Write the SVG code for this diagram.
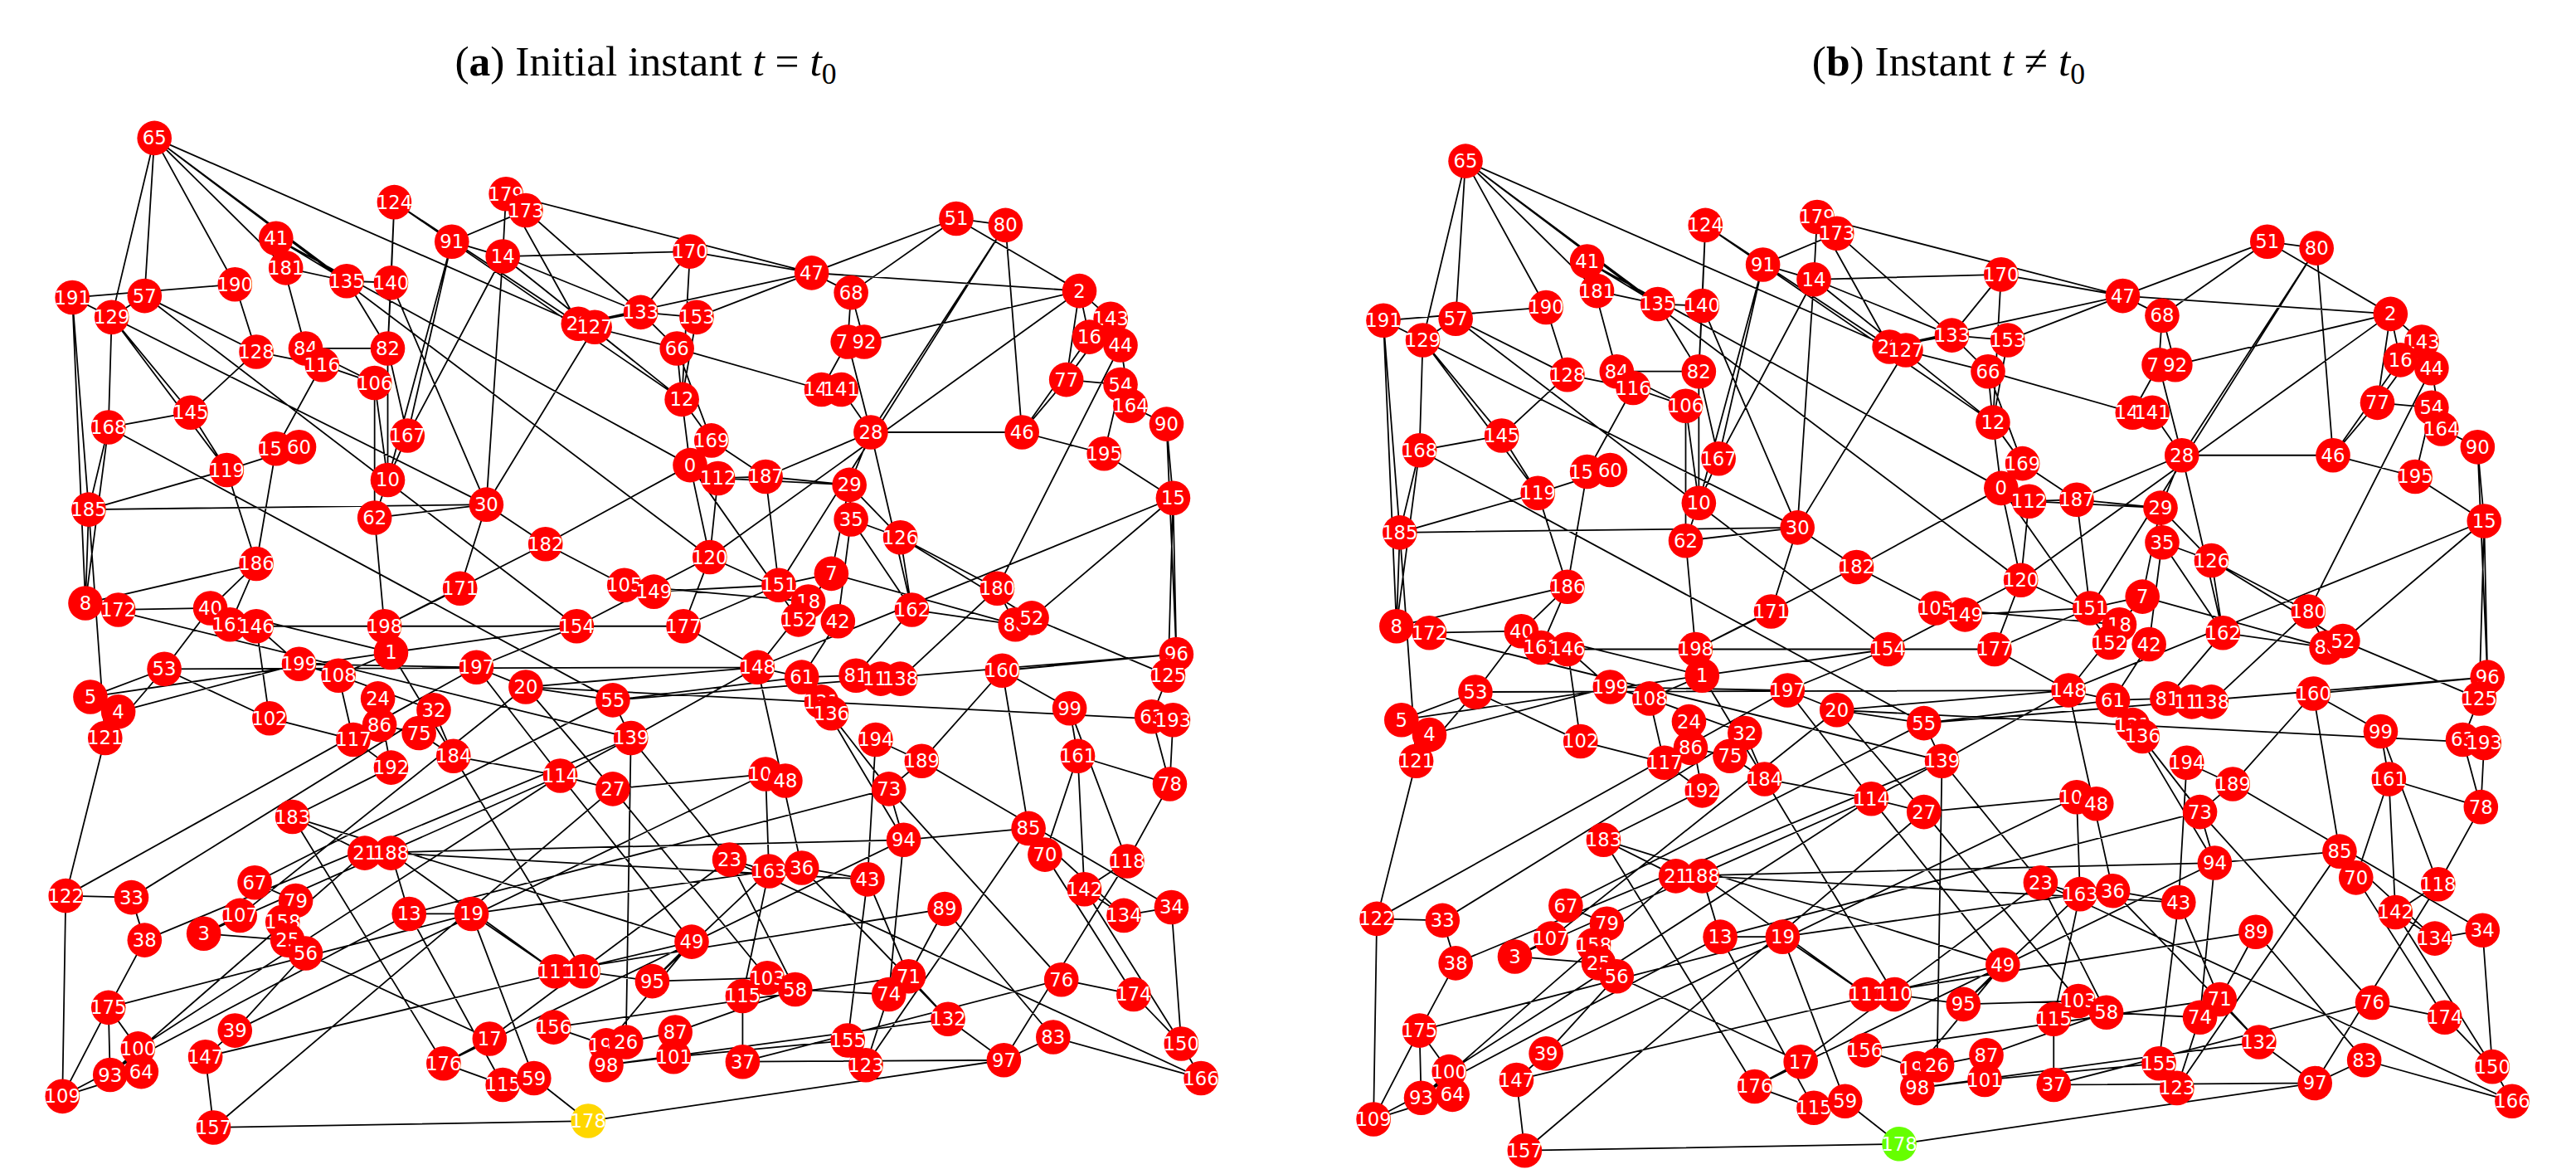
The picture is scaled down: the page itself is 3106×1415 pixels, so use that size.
<svg xmlns="http://www.w3.org/2000/svg" xmlns:xlink="http://www.w3.org/1999/xlink" width="3106" height="1415" viewBox="0 0 3106 1415">
<style>
.e{fill:none;stroke:#000;stroke-width:0.9}
.nd circle{fill:#ff0000}
.nd text{font-family:"DejaVu Sans",sans-serif;font-size:11.5px;fill:#fff;text-anchor:middle;dominant-baseline:central}
.t{font-family:"Liberation Serif",serif;font-size:26px;fill:#000;text-anchor:middle}
</style>
<rect width="3106" height="1415" fill="#fff"/>
<g transform="scale(1.981)">
<text class="t" x="393" y="46">(<tspan font-weight="bold">a</tspan>) Initial instant <tspan font-style="italic">t</tspan> = <tspan font-style="italic">t</tspan><tspan font-size="18" dy="5">0</tspan></text>
<text class="t" x="1186" y="46">(<tspan font-weight="bold">b</tspan>) Instant <tspan font-style="italic">t</tspan> ≠ <tspan font-style="italic">t</tspan><tspan font-size="18" dy="5">0</tspan></text>
<g id="connectors">
<g id="edges-a"><path class="e" d="M94 84L88 180M94 84L68 193M94 84L143 173M94 84L211 171M94 84L352 197M94 84L174 163M240 123L275 147M240 123L238 172M240 123L352 197M308 118L306 156M308 118L320 128M308 118L352 197M320 128L390 190M320 128L275 147M275 147L306 156M275 147L248 265M306 156L415 243M306 156L248 265M306 156L296 307M420 153L494 166M420 153L390 190M420 153L415 243M420 153L306 156M582 133L612 137M582 133L494 166M582 133L657 177M582 133L518 178M612 137L530 263M612 137L622 263M168 145L174 163M168 145L211 171M143 173L44 181M143 173L156 214M211 171L236 212M238 172L296 307M88 180L68 193M44 181L68 193M44 181L54 310M44 181L52 367M68 193L66 260M68 193L116 251M494 166L518 178M494 166L352 197M494 166L424 193M518 178L516 208M657 177L676 194M657 177L663 205M657 177L649 231M657 177L494 166M676 194L682 210M682 210L688 247M352 197L390 190M390 190L412 212M424 193L415 243M412 212L433 268M516 208L530 263M526 208L657 177M156 214L196 222M186 212L228 233M236 212L236 292M228 233L228 315M415 243L433 268M500 237L412 212M649 231L622 263M682 234L688 247M688 247L710 258M710 258L714 303M66 260L54 310M116 251L138 286M248 265L236 292M433 268L420 283M530 263L517 295M622 263L672 276M672 276L714 303M138 286L156 343M437 291L466 290M466 290L517 295M517 295L518 316M236 292L228 315M714 303L711 411M54 310L52 367M296 307L332 331M228 315L234 381M518 316L548 327M548 327L555 371M332 331L380 356M432 339L416 381M156 343L128 370M474 356L506 349M280 358L234 381M607 358L618 380M555 371L618 380M52 367L72 371M72 371L128 370M128 370L156 381M156 381L182 404M234 381L238 397M351 381L416 381M416 381L461 406M716 398L711 411M238 397L206 411M100 407L164 437M182 404L206 411M290 406L320 418M320 418L373 426M461 406L488 412M488 412L521 411M610 408L651 431M711 411L701 436M55 424L72 433M72 433L64 449M164 437L215 450M373 426L384 449M231 441L255 446M264 432L276 460M651 431L656 460M64 449L40 545M215 450L238 467M255 446L276 460M238 467L178 497M384 449L341 472M276 460L341 472M533 450L561 463M561 463L541 480M656 460L712 477M341 472L373 480M373 480L466 471M541 480L550 511M712 477L686 524M178 497L222 519M550 511L626 504M626 504L636 520M238 519L249 556M444 523L468 530M488 528L528 535M686 524L660 541M155 537L180 548M40 545L80 546M80 546L88 572M660 541L684 557M249 556L287 556M287 556L338 591M146 557L124 568M124 568L175 572M575 553L553 594M684 557L713 552M88 572L66 613M175 572L186 580M186 580L143 627M421 573L397 597M355 591L397 597M397 597L467 595M484 602L541 605M553 594L577 620M646 596L690 605M66 613L84 638M452 606L452 646M541 605L527 648M690 605L719 635M143 627L125 643M337 625L369 636M298 632L270 647M381 634L411 628M411 628L410 643M577 620L611 645M84 638L67 654M125 643L130 686M516 633L527 648M719 635L731 656M641 631L611 645M369 648L410 643M452 646L611 645M270 647L306 660M325 656L358 682M86 652L38 667M731 656L641 631M130 686L358 682M358 682L611 645M38 667L66 613
M94 84L432 339M44 181L296 307M88 180L351 381M240 123L415 243M308 118L494 166M168 145L420 283M657 177L432 339M612 137L474 356M682 210L607 358M714 303L461 406M716 398L373 426M714 438L320 418M731 656L444 523M130 686L373 480M38 667L249 556M40 545L290 406M66 260L373 426M52 367L384 449M54 310L296 307M100 407L461 406M55 424L238 397M84 638L341 472M143 627L466 471M125 643L421 573M67 654L222 519M66 613L287 556M80 546L264 432M88 572L384 449M155 537L373 426M146 557L320 418M124 568L341 472M178 497L421 573M222 519L550 511M238 519L528 535M249 556L541 480M287 556L468 530M338 591L575 553M337 625L553 594M298 632L444 523M270 647L550 511M369 648L577 620M410 643L516 633M452 646L646 596M527 648L626 504M641 631L575 553M611 645L686 524M719 635L660 541M690 605L636 520M684 557L626 504M713 552L561 463M686 524L651 431M712 477L701 436M660 541L656 460M646 596L541 480M553 594L528 535M577 620L488 528M541 605L550 511M484 602L444 523M467 595L373 480M452 606L468 530M421 573L341 472M397 597L468 530M355 591L276 460M338 591L238 519M298 632L186 580M270 647L178 497M325 656L287 556M306 660L249 556M369 636L421 573M381 634L384 449M411 628L484 602M516 633L528 535M561 463L610 408M541 480L488 412M550 511L500 427M626 504L610 408M636 520L656 460M528 535L533 450M488 528L461 406M468 530L466 471M444 523L384 449M373 480L320 418M341 472L290 406M276 460L238 397M238 467L230 425M215 450L206 411M164 437L156 381M64 449L100 407M72 433L182 404M55 424L100 407M100 407L128 370M128 370L238 397M156 381L351 381M140 380L156 343M182 404L290 406M206 411L264 432M238 397L351 381M234 381L332 331M290 406L351 381M320 418L461 406M373 426L488 412M384 449L461 406M351 381L432 339M416 381L474 356M461 406L506 349M488 412L510 378M521 411L555 371M548 413L607 358M610 408L716 398M711 411L628 376M618 380L506 349M628 376L714 303M607 358L548 327M555 371L530 263M510 378L518 316M492 366L432 339M486 377L420 283M474 356L466 290M506 349L517 295M432 339L437 291M332 331L420 283M380 356L492 366M398 360L474 356M280 358L296 307M228 315L296 307M236 292L228 233M248 265L236 212M228 233L196 222M196 222L168 273M182 272L138 286M168 273L156 343M138 286L54 310M156 343L52 367M116 251L66 260M156 214L116 251M186 212L236 212M236 212L238 172M238 172L211 171M211 171L174 163M352 197L412 212M412 212L415 243M415 243L420 283M420 283L432 339M437 291L517 295M466 290L530 263M530 263L622 263M649 231L682 234M682 234L672 276M517 295L548 327M518 316L555 371M548 327L628 376M433 268L466 290M512 237L530 263M516 208L500 237M526 208L518 178M390 190L424 193M424 193L494 166M362 199L296 307M306 156L390 190M275 147L236 292M240 123L236 212M168 145L186 212M88 180L156 214M68 193L138 286M663 205L622 263M676 194L649 231M710 258L716 398M714 303L716 398M714 438L712 477M713 552L719 635M40 545L38 667M66 613L67 654M54 310L64 449M66 260L52 367"/></g>
<g id="edges-b"><use xlink:href="#edges-a" href="#edges-a" x="798" y="14"/></g>
</g>
<g id="nodes-a" class="nd">
<g id="a65"><circle cx="94" cy="84" r="10.5"/><text x="94" y="84">65</text></g>
<g id="a124"><circle cx="240" cy="123" r="10.5"/><text x="240" y="123">124</text></g>
<g id="a179"><circle cx="308" cy="118" r="10.5"/><text x="308" y="118">179</text></g>
<g id="a173"><circle cx="320" cy="128" r="10.5"/><text x="320" y="128">173</text></g>
<g id="a91"><circle cx="275" cy="147" r="10.5"/><text x="275" y="147">91</text></g>
<g id="a14"><circle cx="306" cy="156" r="10.5"/><text x="306" y="156">14</text></g>
<g id="a170"><circle cx="420" cy="153" r="10.5"/><text x="420" y="153">170</text></g>
<g id="a51"><circle cx="582" cy="133" r="10.5"/><text x="582" y="133">51</text></g>
<g id="a80"><circle cx="612" cy="137" r="10.5"/><text x="612" y="137">80</text></g>
<g id="a41"><circle cx="168" cy="145" r="10.5"/><text x="168" y="145">41</text></g>
<g id="a181"><circle cx="174" cy="163" r="10.5"/><text x="174" y="163">181</text></g>
<g id="a190"><circle cx="143" cy="173" r="10.5"/><text x="143" y="173">190</text></g>
<g id="a135"><circle cx="211" cy="171" r="10.5"/><text x="211" y="171">135</text></g>
<g id="a140"><circle cx="238" cy="172" r="10.5"/><text x="238" y="172">140</text></g>
<g id="a57"><circle cx="88" cy="180" r="10.5"/><text x="88" y="180">57</text></g>
<g id="a191"><circle cx="44" cy="181" r="10.5"/><text x="44" y="181">191</text></g>
<g id="a129"><circle cx="68" cy="193" r="10.5"/><text x="68" y="193">129</text></g>
<g id="a47"><circle cx="494" cy="166" r="10.5"/><text x="494" y="166">47</text></g>
<g id="a68"><circle cx="518" cy="178" r="10.5"/><text x="518" y="178">68</text></g>
<g id="a2"><circle cx="657" cy="177" r="10.5"/><text x="657" y="177">2</text></g>
<g id="a143"><circle cx="676" cy="194" r="10.5"/><text x="676" y="194">143</text></g>
<g id="a16"><circle cx="663" cy="205" r="10.5"/><text x="663" y="205">16</text></g>
<g id="a44"><circle cx="682" cy="210" r="10.5"/><text x="682" y="210">44</text></g>
<g id="a22"><circle cx="352" cy="197" r="10.5"/><text x="352" y="197">22</text></g>
<g id="a127"><circle cx="362" cy="199" r="10.5"/><text x="362" y="199">127</text></g>
<g id="a133"><circle cx="390" cy="190" r="10.5"/><text x="390" y="190">133</text></g>
<g id="a153"><circle cx="424" cy="193" r="10.5"/><text x="424" y="193">153</text></g>
<g id="a66"><circle cx="412" cy="212" r="10.5"/><text x="412" y="212">66</text></g>
<g id="a72"><circle cx="516" cy="208" r="10.5"/><text x="516" y="208">72</text></g>
<g id="a92"><circle cx="526" cy="208" r="10.5"/><text x="526" y="208">92</text></g>
<g id="a128"><circle cx="156" cy="214" r="10.5"/><text x="156" y="214">128</text></g>
<g id="a84"><circle cx="186" cy="212" r="10.5"/><text x="186" y="212">84</text></g>
<g id="a116"><circle cx="196" cy="222" r="10.5"/><text x="196" y="222">116</text></g>
<g id="a82"><circle cx="236" cy="212" r="10.5"/><text x="236" y="212">82</text></g>
<g id="a106"><circle cx="228" cy="233" r="10.5"/><text x="228" y="233">106</text></g>
<g id="a12"><circle cx="415" cy="243" r="10.5"/><text x="415" y="243">12</text></g>
<g id="a144"><circle cx="500" cy="237" r="10.5"/><text x="500" y="237">144</text></g>
<g id="a141"><circle cx="512" cy="237" r="10.5"/><text x="512" y="237">141</text></g>
<g id="a77"><circle cx="649" cy="231" r="10.5"/><text x="649" y="231">77</text></g>
<g id="a54"><circle cx="682" cy="234" r="10.5"/><text x="682" y="234">54</text></g>
<g id="a164"><circle cx="688" cy="247" r="10.5"/><text x="688" y="247">164</text></g>
<g id="a90"><circle cx="710" cy="258" r="10.5"/><text x="710" y="258">90</text></g>
<g id="a168"><circle cx="66" cy="260" r="10.5"/><text x="66" y="260">168</text></g>
<g id="a145"><circle cx="116" cy="251" r="10.5"/><text x="116" y="251">145</text></g>
<g id="a167"><circle cx="248" cy="265" r="10.5"/><text x="248" y="265">167</text></g>
<g id="a150"><circle cx="168" cy="273" r="10.5"/><text x="168" y="273">150</text></g>
<g id="a60"><circle cx="182" cy="272" r="10.5"/><text x="182" y="272">60</text></g>
<g id="a169"><circle cx="433" cy="268" r="10.5"/><text x="433" y="268">169</text></g>
<g id="a28"><circle cx="530" cy="263" r="10.5"/><text x="530" y="263">28</text></g>
<g id="a46"><circle cx="622" cy="263" r="10.5"/><text x="622" y="263">46</text></g>
<g id="a195"><circle cx="672" cy="276" r="10.5"/><text x="672" y="276">195</text></g>
<g id="a119"><circle cx="138" cy="286" r="10.5"/><text x="138" y="286">119</text></g>
<g id="a0"><circle cx="420" cy="283" r="10.5"/><text x="420" y="283">0</text></g>
<g id="a112"><circle cx="437" cy="291" r="10.5"/><text x="437" y="291">112</text></g>
<g id="a187"><circle cx="466" cy="290" r="10.5"/><text x="466" y="290">187</text></g>
<g id="a29"><circle cx="517" cy="295" r="10.5"/><text x="517" y="295">29</text></g>
<g id="a10"><circle cx="236" cy="292" r="10.5"/><text x="236" y="292">10</text></g>
<g id="a15"><circle cx="714" cy="303" r="10.5"/><text x="714" y="303">15</text></g>
<g id="a185"><circle cx="54" cy="310" r="10.5"/><text x="54" y="310">185</text></g>
<g id="a30"><circle cx="296" cy="307" r="10.5"/><text x="296" y="307">30</text></g>
<g id="a62"><circle cx="228" cy="315" r="10.5"/><text x="228" y="315">62</text></g>
<g id="a35"><circle cx="518" cy="316" r="10.5"/><text x="518" y="316">35</text></g>
<g id="a126"><circle cx="548" cy="327" r="10.5"/><text x="548" y="327">126</text></g>
<g id="a182"><circle cx="332" cy="331" r="10.5"/><text x="332" y="331">182</text></g>
<g id="a120"><circle cx="432" cy="339" r="10.5"/><text x="432" y="339">120</text></g>
<g id="a186"><circle cx="156" cy="343" r="10.5"/><text x="156" y="343">186</text></g>
<g id="a151"><circle cx="474" cy="356" r="10.5"/><text x="474" y="356">151</text></g>
<g id="a7"><circle cx="506" cy="349" r="10.5"/><text x="506" y="349">7</text></g>
<g id="a18"><circle cx="492" cy="366" r="10.5"/><text x="492" y="366">18</text></g>
<g id="a152"><circle cx="486" cy="377" r="10.5"/><text x="486" y="377">152</text></g>
<g id="a42"><circle cx="510" cy="378" r="10.5"/><text x="510" y="378">42</text></g>
<g id="a171"><circle cx="280" cy="358" r="10.5"/><text x="280" y="358">171</text></g>
<g id="a105"><circle cx="380" cy="356" r="10.5"/><text x="380" y="356">105</text></g>
<g id="a149"><circle cx="398" cy="360" r="10.5"/><text x="398" y="360">149</text></g>
<g id="a180"><circle cx="607" cy="358" r="10.5"/><text x="607" y="358">180</text></g>
<g id="a162"><circle cx="555" cy="371" r="10.5"/><text x="555" y="371">162</text></g>
<g id="a88"><circle cx="618" cy="380" r="10.5"/><text x="618" y="380">88</text></g>
<g id="a52"><circle cx="628" cy="376" r="10.5"/><text x="628" y="376">52</text></g>
<g id="a8"><circle cx="52" cy="367" r="10.5"/><text x="52" y="367">8</text></g>
<g id="a172"><circle cx="72" cy="371" r="10.5"/><text x="72" y="371">172</text></g>
<g id="a40"><circle cx="128" cy="370" r="10.5"/><text x="128" y="370">40</text></g>
<g id="a161b"><circle cx="140" cy="380" r="10.5"/><text x="140" y="380">161</text></g>
<g id="a146"><circle cx="156" cy="381" r="10.5"/><text x="156" y="381">146</text></g>
<g id="a198"><circle cx="234" cy="381" r="10.5"/><text x="234" y="381">198</text></g>
<g id="a154"><circle cx="351" cy="381" r="10.5"/><text x="351" y="381">154</text></g>
<g id="a177"><circle cx="416" cy="381" r="10.5"/><text x="416" y="381">177</text></g>
<g id="a96"><circle cx="716" cy="398" r="10.5"/><text x="716" y="398">96</text></g>
<g id="a1"><circle cx="238" cy="397" r="10.5"/><text x="238" y="397">1</text></g>
<g id="a53"><circle cx="100" cy="407" r="10.5"/><text x="100" y="407">53</text></g>
<g id="a199"><circle cx="182" cy="404" r="10.5"/><text x="182" y="404">199</text></g>
<g id="a108"><circle cx="206" cy="411" r="10.5"/><text x="206" y="411">108</text></g>
<g id="a197"><circle cx="290" cy="406" r="10.5"/><text x="290" y="406">197</text></g>
<g id="a20"><circle cx="320" cy="418" r="10.5"/><text x="320" y="418">20</text></g>
<g id="a148"><circle cx="461" cy="406" r="10.5"/><text x="461" y="406">148</text></g>
<g id="a61"><circle cx="488" cy="412" r="10.5"/><text x="488" y="412">61</text></g>
<g id="a81"><circle cx="521" cy="411" r="10.5"/><text x="521" y="411">81</text></g>
<g id="a113"><circle cx="536" cy="413" r="10.5"/><text x="536" y="413">113</text></g>
<g id="a138"><circle cx="548" cy="413" r="10.5"/><text x="548" y="413">138</text></g>
<g id="a160"><circle cx="610" cy="408" r="10.5"/><text x="610" y="408">160</text></g>
<g id="a125"><circle cx="711" cy="411" r="10.5"/><text x="711" y="411">125</text></g>
<g id="a5"><circle cx="55" cy="424" r="10.5"/><text x="55" y="424">5</text></g>
<g id="a4"><circle cx="72" cy="433" r="10.5"/><text x="72" y="433">4</text></g>
<g id="a102"><circle cx="164" cy="437" r="10.5"/><text x="164" y="437">102</text></g>
<g id="a55"><circle cx="373" cy="426" r="10.5"/><text x="373" y="426">55</text></g>
<g id="a24"><circle cx="230" cy="425" r="10.5"/><text x="230" y="425">24</text></g>
<g id="a86"><circle cx="231" cy="441" r="10.5"/><text x="231" y="441">86</text></g>
<g id="a32"><circle cx="264" cy="432" r="10.5"/><text x="264" y="432">32</text></g>
<g id="a131"><circle cx="500" cy="427" r="10.5"/><text x="500" y="427">131</text></g>
<g id="a136"><circle cx="506" cy="434" r="10.5"/><text x="506" y="434">136</text></g>
<g id="a99"><circle cx="651" cy="431" r="10.5"/><text x="651" y="431">99</text></g>
<g id="a63"><circle cx="701" cy="436" r="10.5"/><text x="701" y="436">63</text></g>
<g id="a193"><circle cx="714" cy="438" r="10.5"/><text x="714" y="438">193</text></g>
<g id="a121"><circle cx="64" cy="449" r="10.5"/><text x="64" y="449">121</text></g>
<g id="a117"><circle cx="215" cy="450" r="10.5"/><text x="215" y="450">117</text></g>
<g id="a75"><circle cx="255" cy="446" r="10.5"/><text x="255" y="446">75</text></g>
<g id="a192"><circle cx="238" cy="467" r="10.5"/><text x="238" y="467">192</text></g>
<g id="a139"><circle cx="384" cy="449" r="10.5"/><text x="384" y="449">139</text></g>
<g id="a184"><circle cx="276" cy="460" r="10.5"/><text x="276" y="460">184</text></g>
<g id="a194"><circle cx="533" cy="450" r="10.5"/><text x="533" y="450">194</text></g>
<g id="a189"><circle cx="561" cy="463" r="10.5"/><text x="561" y="463">189</text></g>
<g id="a161"><circle cx="656" cy="460" r="10.5"/><text x="656" y="460">161</text></g>
<g id="a114"><circle cx="341" cy="472" r="10.5"/><text x="341" y="472">114</text></g>
<g id="a27"><circle cx="373" cy="480" r="10.5"/><text x="373" y="480">27</text></g>
<g id="a104"><circle cx="466" cy="471" r="10.5"/><text x="466" y="471">104</text></g>
<g id="a48"><circle cx="478" cy="475" r="10.5"/><text x="478" y="475">48</text></g>
<g id="a73"><circle cx="541" cy="480" r="10.5"/><text x="541" y="480">73</text></g>
<g id="a78"><circle cx="712" cy="477" r="10.5"/><text x="712" y="477">78</text></g>
<g id="a183"><circle cx="178" cy="497" r="10.5"/><text x="178" y="497">183</text></g>
<g id="a94"><circle cx="550" cy="511" r="10.5"/><text x="550" y="511">94</text></g>
<g id="a85"><circle cx="626" cy="504" r="10.5"/><text x="626" y="504">85</text></g>
<g id="a70"><circle cx="636" cy="520" r="10.5"/><text x="636" y="520">70</text></g>
<g id="a21"><circle cx="222" cy="519" r="10.5"/><text x="222" y="519">21</text></g>
<g id="a188"><circle cx="238" cy="519" r="10.5"/><text x="238" y="519">188</text></g>
<g id="a23"><circle cx="444" cy="523" r="10.5"/><text x="444" y="523">23</text></g>
<g id="a163"><circle cx="468" cy="530" r="10.5"/><text x="468" y="530">163</text></g>
<g id="a36"><circle cx="488" cy="528" r="10.5"/><text x="488" y="528">36</text></g>
<g id="a43"><circle cx="528" cy="535" r="10.5"/><text x="528" y="535">43</text></g>
<g id="a118"><circle cx="686" cy="524" r="10.5"/><text x="686" y="524">118</text></g>
<g id="a67"><circle cx="155" cy="537" r="10.5"/><text x="155" y="537">67</text></g>
<g id="a122"><circle cx="40" cy="545" r="10.5"/><text x="40" y="545">122</text></g>
<g id="a33"><circle cx="80" cy="546" r="10.5"/><text x="80" y="546">33</text></g>
<g id="a79"><circle cx="180" cy="548" r="10.5"/><text x="180" y="548">79</text></g>
<g id="a142"><circle cx="660" cy="541" r="10.5"/><text x="660" y="541">142</text></g>
<g id="a13"><circle cx="249" cy="556" r="10.5"/><text x="249" y="556">13</text></g>
<g id="a19"><circle cx="287" cy="556" r="10.5"/><text x="287" y="556">19</text></g>
<g id="a107"><circle cx="146" cy="557" r="10.5"/><text x="146" y="557">107</text></g>
<g id="a3"><circle cx="124" cy="568" r="10.5"/><text x="124" y="568">3</text></g>
<g id="a158"><circle cx="172" cy="561" r="10.5"/><text x="172" y="561">158</text></g>
<g id="a89"><circle cx="575" cy="553" r="10.5"/><text x="575" y="553">89</text></g>
<g id="a134"><circle cx="684" cy="557" r="10.5"/><text x="684" y="557">134</text></g>
<g id="a34"><circle cx="713" cy="552" r="10.5"/><text x="713" y="552">34</text></g>
<g id="a38"><circle cx="88" cy="572" r="10.5"/><text x="88" y="572">38</text></g>
<g id="a25"><circle cx="175" cy="572" r="10.5"/><text x="175" y="572">25</text></g>
<g id="a56"><circle cx="186" cy="580" r="10.5"/><text x="186" y="580">56</text></g>
<g id="a49"><circle cx="421" cy="573" r="10.5"/><text x="421" y="573">49</text></g>
<g id="a111"><circle cx="338" cy="591" r="10.5"/><text x="338" y="591">111</text></g>
<g id="a110"><circle cx="355" cy="591" r="10.5"/><text x="355" y="591">110</text></g>
<g id="a95"><circle cx="397" cy="597" r="10.5"/><text x="397" y="597">95</text></g>
<g id="a103"><circle cx="467" cy="595" r="10.5"/><text x="467" y="595">103</text></g>
<g id="a58"><circle cx="484" cy="602" r="10.5"/><text x="484" y="602">58</text></g>
<g id="a71"><circle cx="553" cy="594" r="10.5"/><text x="553" y="594">71</text></g>
<g id="a76"><circle cx="646" cy="596" r="10.5"/><text x="646" y="596">76</text></g>
<g id="a175"><circle cx="66" cy="613" r="10.5"/><text x="66" y="613">175</text></g>
<g id="a115"><circle cx="452" cy="606" r="10.5"/><text x="452" y="606">115</text></g>
<g id="a74"><circle cx="541" cy="605" r="10.5"/><text x="541" y="605">74</text></g>
<g id="a174"><circle cx="690" cy="605" r="10.5"/><text x="690" y="605">174</text></g>
<g id="a39"><circle cx="143" cy="627" r="10.5"/><text x="143" y="627">39</text></g>
<g id="a156"><circle cx="337" cy="625" r="10.5"/><text x="337" y="625">156</text></g>
<g id="a17"><circle cx="298" cy="632" r="10.5"/><text x="298" y="632">17</text></g>
<g id="a196"><circle cx="369" cy="636" r="10.5"/><text x="369" y="636">196</text></g>
<g id="a26"><circle cx="381" cy="634" r="10.5"/><text x="381" y="634">26</text></g>
<g id="a87"><circle cx="411" cy="628" r="10.5"/><text x="411" y="628">87</text></g>
<g id="a132"><circle cx="577" cy="620" r="10.5"/><text x="577" y="620">132</text></g>
<g id="a100"><circle cx="84" cy="638" r="10.5"/><text x="84" y="638">100</text></g>
<g id="a147"><circle cx="125" cy="643" r="10.5"/><text x="125" y="643">147</text></g>
<g id="a155"><circle cx="516" cy="633" r="10.5"/><text x="516" y="633">155</text></g>
<g id="a150b"><circle cx="719" cy="635" r="10.5"/><text x="719" y="635">150</text></g>
<g id="a83"><circle cx="641" cy="631" r="10.5"/><text x="641" y="631">83</text></g>
<g id="a98"><circle cx="369" cy="648" r="10.5"/><text x="369" y="648">98</text></g>
<g id="a101"><circle cx="410" cy="643" r="10.5"/><text x="410" y="643">101</text></g>
<g id="a37"><circle cx="452" cy="646" r="10.5"/><text x="452" y="646">37</text></g>
<g id="a97"><circle cx="611" cy="645" r="10.5"/><text x="611" y="645">97</text></g>
<g id="a176"><circle cx="270" cy="647" r="10.5"/><text x="270" y="647">176</text></g>
<g id="a115b"><circle cx="306" cy="660" r="10.5"/><text x="306" y="660">115</text></g>
<g id="a59"><circle cx="325" cy="656" r="10.5"/><text x="325" y="656">59</text></g>
<g id="a123"><circle cx="527" cy="648" r="10.5"/><text x="527" y="648">123</text></g>
<g id="a93"><circle cx="67" cy="654" r="10.5"/><text x="67" y="654">93</text></g>
<g id="a64"><circle cx="86" cy="652" r="10.5"/><text x="86" y="652">64</text></g>
<g id="a109"><circle cx="38" cy="667" r="10.5"/><text x="38" y="667">109</text></g>
<g id="a166"><circle cx="731" cy="656" r="10.5"/><text x="731" y="656">166</text></g>
<g id="a157"><circle cx="130" cy="686" r="10.5"/><text x="130" y="686">157</text></g>
<g id="a178"><circle cx="358" cy="682" r="10.5" style="fill:#ffd700"/><text x="358" y="682">178</text></g>
</g>
<g id="nodes-b" class="nd" transform="translate(798 14)">
<g id="b65"><circle cx="94" cy="84" r="10.5"/><text x="94" y="84">65</text></g>
<g id="b124"><circle cx="240" cy="123" r="10.5"/><text x="240" y="123">124</text></g>
<g id="b179"><circle cx="308" cy="118" r="10.5"/><text x="308" y="118">179</text></g>
<g id="b173"><circle cx="320" cy="128" r="10.5"/><text x="320" y="128">173</text></g>
<g id="b91"><circle cx="275" cy="147" r="10.5"/><text x="275" y="147">91</text></g>
<g id="b14"><circle cx="306" cy="156" r="10.5"/><text x="306" y="156">14</text></g>
<g id="b170"><circle cx="420" cy="153" r="10.5"/><text x="420" y="153">170</text></g>
<g id="b51"><circle cx="582" cy="133" r="10.5"/><text x="582" y="133">51</text></g>
<g id="b80"><circle cx="612" cy="137" r="10.5"/><text x="612" y="137">80</text></g>
<g id="b41"><circle cx="168" cy="145" r="10.5"/><text x="168" y="145">41</text></g>
<g id="b181"><circle cx="174" cy="163" r="10.5"/><text x="174" y="163">181</text></g>
<g id="b190"><circle cx="143" cy="173" r="10.5"/><text x="143" y="173">190</text></g>
<g id="b135"><circle cx="211" cy="171" r="10.5"/><text x="211" y="171">135</text></g>
<g id="b140"><circle cx="238" cy="172" r="10.5"/><text x="238" y="172">140</text></g>
<g id="b57"><circle cx="88" cy="180" r="10.5"/><text x="88" y="180">57</text></g>
<g id="b191"><circle cx="44" cy="181" r="10.5"/><text x="44" y="181">191</text></g>
<g id="b129"><circle cx="68" cy="193" r="10.5"/><text x="68" y="193">129</text></g>
<g id="b47"><circle cx="494" cy="166" r="10.5"/><text x="494" y="166">47</text></g>
<g id="b68"><circle cx="518" cy="178" r="10.5"/><text x="518" y="178">68</text></g>
<g id="b2"><circle cx="657" cy="177" r="10.5"/><text x="657" y="177">2</text></g>
<g id="b143"><circle cx="676" cy="194" r="10.5"/><text x="676" y="194">143</text></g>
<g id="b16"><circle cx="663" cy="205" r="10.5"/><text x="663" y="205">16</text></g>
<g id="b44"><circle cx="682" cy="210" r="10.5"/><text x="682" y="210">44</text></g>
<g id="b22"><circle cx="352" cy="197" r="10.5"/><text x="352" y="197">22</text></g>
<g id="b127"><circle cx="362" cy="199" r="10.5"/><text x="362" y="199">127</text></g>
<g id="b133"><circle cx="390" cy="190" r="10.5"/><text x="390" y="190">133</text></g>
<g id="b153"><circle cx="424" cy="193" r="10.5"/><text x="424" y="193">153</text></g>
<g id="b66"><circle cx="412" cy="212" r="10.5"/><text x="412" y="212">66</text></g>
<g id="b72"><circle cx="516" cy="208" r="10.5"/><text x="516" y="208">72</text></g>
<g id="b92"><circle cx="526" cy="208" r="10.5"/><text x="526" y="208">92</text></g>
<g id="b128"><circle cx="156" cy="214" r="10.5"/><text x="156" y="214">128</text></g>
<g id="b84"><circle cx="186" cy="212" r="10.5"/><text x="186" y="212">84</text></g>
<g id="b116"><circle cx="196" cy="222" r="10.5"/><text x="196" y="222">116</text></g>
<g id="b82"><circle cx="236" cy="212" r="10.5"/><text x="236" y="212">82</text></g>
<g id="b106"><circle cx="228" cy="233" r="10.5"/><text x="228" y="233">106</text></g>
<g id="b12"><circle cx="415" cy="243" r="10.5"/><text x="415" y="243">12</text></g>
<g id="b144"><circle cx="500" cy="237" r="10.5"/><text x="500" y="237">144</text></g>
<g id="b141"><circle cx="512" cy="237" r="10.5"/><text x="512" y="237">141</text></g>
<g id="b77"><circle cx="649" cy="231" r="10.5"/><text x="649" y="231">77</text></g>
<g id="b54"><circle cx="682" cy="234" r="10.5"/><text x="682" y="234">54</text></g>
<g id="b164"><circle cx="688" cy="247" r="10.5"/><text x="688" y="247">164</text></g>
<g id="b90"><circle cx="710" cy="258" r="10.5"/><text x="710" y="258">90</text></g>
<g id="b168"><circle cx="66" cy="260" r="10.5"/><text x="66" y="260">168</text></g>
<g id="b145"><circle cx="116" cy="251" r="10.5"/><text x="116" y="251">145</text></g>
<g id="b167"><circle cx="248" cy="265" r="10.5"/><text x="248" y="265">167</text></g>
<g id="b150"><circle cx="168" cy="273" r="10.5"/><text x="168" y="273">150</text></g>
<g id="b60"><circle cx="182" cy="272" r="10.5"/><text x="182" y="272">60</text></g>
<g id="b169"><circle cx="433" cy="268" r="10.5"/><text x="433" y="268">169</text></g>
<g id="b28"><circle cx="530" cy="263" r="10.5"/><text x="530" y="263">28</text></g>
<g id="b46"><circle cx="622" cy="263" r="10.5"/><text x="622" y="263">46</text></g>
<g id="b195"><circle cx="672" cy="276" r="10.5"/><text x="672" y="276">195</text></g>
<g id="b119"><circle cx="138" cy="286" r="10.5"/><text x="138" y="286">119</text></g>
<g id="b0"><circle cx="420" cy="283" r="10.5"/><text x="420" y="283">0</text></g>
<g id="b112"><circle cx="437" cy="291" r="10.5"/><text x="437" y="291">112</text></g>
<g id="b187"><circle cx="466" cy="290" r="10.5"/><text x="466" y="290">187</text></g>
<g id="b29"><circle cx="517" cy="295" r="10.5"/><text x="517" y="295">29</text></g>
<g id="b10"><circle cx="236" cy="292" r="10.5"/><text x="236" y="292">10</text></g>
<g id="b15"><circle cx="714" cy="303" r="10.5"/><text x="714" y="303">15</text></g>
<g id="b185"><circle cx="54" cy="310" r="10.5"/><text x="54" y="310">185</text></g>
<g id="b30"><circle cx="296" cy="307" r="10.5"/><text x="296" y="307">30</text></g>
<g id="b62"><circle cx="228" cy="315" r="10.5"/><text x="228" y="315">62</text></g>
<g id="b35"><circle cx="518" cy="316" r="10.5"/><text x="518" y="316">35</text></g>
<g id="b126"><circle cx="548" cy="327" r="10.5"/><text x="548" y="327">126</text></g>
<g id="b182"><circle cx="332" cy="331" r="10.5"/><text x="332" y="331">182</text></g>
<g id="b120"><circle cx="432" cy="339" r="10.5"/><text x="432" y="339">120</text></g>
<g id="b186"><circle cx="156" cy="343" r="10.5"/><text x="156" y="343">186</text></g>
<g id="b151"><circle cx="474" cy="356" r="10.5"/><text x="474" y="356">151</text></g>
<g id="b7"><circle cx="506" cy="349" r="10.5"/><text x="506" y="349">7</text></g>
<g id="b18"><circle cx="492" cy="366" r="10.5"/><text x="492" y="366">18</text></g>
<g id="b152"><circle cx="486" cy="377" r="10.5"/><text x="486" y="377">152</text></g>
<g id="b42"><circle cx="510" cy="378" r="10.5"/><text x="510" y="378">42</text></g>
<g id="b171"><circle cx="280" cy="358" r="10.5"/><text x="280" y="358">171</text></g>
<g id="b105"><circle cx="380" cy="356" r="10.5"/><text x="380" y="356">105</text></g>
<g id="b149"><circle cx="398" cy="360" r="10.5"/><text x="398" y="360">149</text></g>
<g id="b180"><circle cx="607" cy="358" r="10.5"/><text x="607" y="358">180</text></g>
<g id="b162"><circle cx="555" cy="371" r="10.5"/><text x="555" y="371">162</text></g>
<g id="b88"><circle cx="618" cy="380" r="10.5"/><text x="618" y="380">88</text></g>
<g id="b52"><circle cx="628" cy="376" r="10.5"/><text x="628" y="376">52</text></g>
<g id="b8"><circle cx="52" cy="367" r="10.5"/><text x="52" y="367">8</text></g>
<g id="b172"><circle cx="72" cy="371" r="10.5"/><text x="72" y="371">172</text></g>
<g id="b40"><circle cx="128" cy="370" r="10.5"/><text x="128" y="370">40</text></g>
<g id="b161b"><circle cx="140" cy="380" r="10.5"/><text x="140" y="380">161</text></g>
<g id="b146"><circle cx="156" cy="381" r="10.5"/><text x="156" y="381">146</text></g>
<g id="b198"><circle cx="234" cy="381" r="10.5"/><text x="234" y="381">198</text></g>
<g id="b154"><circle cx="351" cy="381" r="10.5"/><text x="351" y="381">154</text></g>
<g id="b177"><circle cx="416" cy="381" r="10.5"/><text x="416" y="381">177</text></g>
<g id="b96"><circle cx="716" cy="398" r="10.5"/><text x="716" y="398">96</text></g>
<g id="b1"><circle cx="238" cy="397" r="10.5"/><text x="238" y="397">1</text></g>
<g id="b53"><circle cx="100" cy="407" r="10.5"/><text x="100" y="407">53</text></g>
<g id="b199"><circle cx="182" cy="404" r="10.5"/><text x="182" y="404">199</text></g>
<g id="b108"><circle cx="206" cy="411" r="10.5"/><text x="206" y="411">108</text></g>
<g id="b197"><circle cx="290" cy="406" r="10.5"/><text x="290" y="406">197</text></g>
<g id="b20"><circle cx="320" cy="418" r="10.5"/><text x="320" y="418">20</text></g>
<g id="b148"><circle cx="461" cy="406" r="10.5"/><text x="461" y="406">148</text></g>
<g id="b61"><circle cx="488" cy="412" r="10.5"/><text x="488" y="412">61</text></g>
<g id="b81"><circle cx="521" cy="411" r="10.5"/><text x="521" y="411">81</text></g>
<g id="b113"><circle cx="536" cy="413" r="10.5"/><text x="536" y="413">113</text></g>
<g id="b138"><circle cx="548" cy="413" r="10.5"/><text x="548" y="413">138</text></g>
<g id="b160"><circle cx="610" cy="408" r="10.5"/><text x="610" y="408">160</text></g>
<g id="b125"><circle cx="711" cy="411" r="10.5"/><text x="711" y="411">125</text></g>
<g id="b5"><circle cx="55" cy="424" r="10.5"/><text x="55" y="424">5</text></g>
<g id="b4"><circle cx="72" cy="433" r="10.5"/><text x="72" y="433">4</text></g>
<g id="b102"><circle cx="164" cy="437" r="10.5"/><text x="164" y="437">102</text></g>
<g id="b55"><circle cx="373" cy="426" r="10.5"/><text x="373" y="426">55</text></g>
<g id="b24"><circle cx="230" cy="425" r="10.5"/><text x="230" y="425">24</text></g>
<g id="b86"><circle cx="231" cy="441" r="10.5"/><text x="231" y="441">86</text></g>
<g id="b32"><circle cx="264" cy="432" r="10.5"/><text x="264" y="432">32</text></g>
<g id="b131"><circle cx="500" cy="427" r="10.5"/><text x="500" y="427">131</text></g>
<g id="b136"><circle cx="506" cy="434" r="10.5"/><text x="506" y="434">136</text></g>
<g id="b99"><circle cx="651" cy="431" r="10.5"/><text x="651" y="431">99</text></g>
<g id="b63"><circle cx="701" cy="436" r="10.5"/><text x="701" y="436">63</text></g>
<g id="b193"><circle cx="714" cy="438" r="10.5"/><text x="714" y="438">193</text></g>
<g id="b121"><circle cx="64" cy="449" r="10.5"/><text x="64" y="449">121</text></g>
<g id="b117"><circle cx="215" cy="450" r="10.5"/><text x="215" y="450">117</text></g>
<g id="b75"><circle cx="255" cy="446" r="10.5"/><text x="255" y="446">75</text></g>
<g id="b192"><circle cx="238" cy="467" r="10.5"/><text x="238" y="467">192</text></g>
<g id="b139"><circle cx="384" cy="449" r="10.5"/><text x="384" y="449">139</text></g>
<g id="b184"><circle cx="276" cy="460" r="10.5"/><text x="276" y="460">184</text></g>
<g id="b194"><circle cx="533" cy="450" r="10.5"/><text x="533" y="450">194</text></g>
<g id="b189"><circle cx="561" cy="463" r="10.5"/><text x="561" y="463">189</text></g>
<g id="b161"><circle cx="656" cy="460" r="10.5"/><text x="656" y="460">161</text></g>
<g id="b114"><circle cx="341" cy="472" r="10.5"/><text x="341" y="472">114</text></g>
<g id="b27"><circle cx="373" cy="480" r="10.5"/><text x="373" y="480">27</text></g>
<g id="b104"><circle cx="466" cy="471" r="10.5"/><text x="466" y="471">104</text></g>
<g id="b48"><circle cx="478" cy="475" r="10.5"/><text x="478" y="475">48</text></g>
<g id="b73"><circle cx="541" cy="480" r="10.5"/><text x="541" y="480">73</text></g>
<g id="b78"><circle cx="712" cy="477" r="10.5"/><text x="712" y="477">78</text></g>
<g id="b183"><circle cx="178" cy="497" r="10.5"/><text x="178" y="497">183</text></g>
<g id="b94"><circle cx="550" cy="511" r="10.5"/><text x="550" y="511">94</text></g>
<g id="b85"><circle cx="626" cy="504" r="10.5"/><text x="626" y="504">85</text></g>
<g id="b70"><circle cx="636" cy="520" r="10.5"/><text x="636" y="520">70</text></g>
<g id="b21"><circle cx="222" cy="519" r="10.5"/><text x="222" y="519">21</text></g>
<g id="b188"><circle cx="238" cy="519" r="10.5"/><text x="238" y="519">188</text></g>
<g id="b23"><circle cx="444" cy="523" r="10.5"/><text x="444" y="523">23</text></g>
<g id="b163"><circle cx="468" cy="530" r="10.5"/><text x="468" y="530">163</text></g>
<g id="b36"><circle cx="488" cy="528" r="10.5"/><text x="488" y="528">36</text></g>
<g id="b43"><circle cx="528" cy="535" r="10.5"/><text x="528" y="535">43</text></g>
<g id="b118"><circle cx="686" cy="524" r="10.5"/><text x="686" y="524">118</text></g>
<g id="b67"><circle cx="155" cy="537" r="10.5"/><text x="155" y="537">67</text></g>
<g id="b122"><circle cx="40" cy="545" r="10.5"/><text x="40" y="545">122</text></g>
<g id="b33"><circle cx="80" cy="546" r="10.5"/><text x="80" y="546">33</text></g>
<g id="b79"><circle cx="180" cy="548" r="10.5"/><text x="180" y="548">79</text></g>
<g id="b142"><circle cx="660" cy="541" r="10.5"/><text x="660" y="541">142</text></g>
<g id="b13"><circle cx="249" cy="556" r="10.5"/><text x="249" y="556">13</text></g>
<g id="b19"><circle cx="287" cy="556" r="10.5"/><text x="287" y="556">19</text></g>
<g id="b107"><circle cx="146" cy="557" r="10.5"/><text x="146" y="557">107</text></g>
<g id="b3"><circle cx="124" cy="568" r="10.5"/><text x="124" y="568">3</text></g>
<g id="b158"><circle cx="172" cy="561" r="10.5"/><text x="172" y="561">158</text></g>
<g id="b89"><circle cx="575" cy="553" r="10.5"/><text x="575" y="553">89</text></g>
<g id="b134"><circle cx="684" cy="557" r="10.5"/><text x="684" y="557">134</text></g>
<g id="b34"><circle cx="713" cy="552" r="10.5"/><text x="713" y="552">34</text></g>
<g id="b38"><circle cx="88" cy="572" r="10.5"/><text x="88" y="572">38</text></g>
<g id="b25"><circle cx="175" cy="572" r="10.5"/><text x="175" y="572">25</text></g>
<g id="b56"><circle cx="186" cy="580" r="10.5"/><text x="186" y="580">56</text></g>
<g id="b49"><circle cx="421" cy="573" r="10.5"/><text x="421" y="573">49</text></g>
<g id="b111"><circle cx="338" cy="591" r="10.5"/><text x="338" y="591">111</text></g>
<g id="b110"><circle cx="355" cy="591" r="10.5"/><text x="355" y="591">110</text></g>
<g id="b95"><circle cx="397" cy="597" r="10.5"/><text x="397" y="597">95</text></g>
<g id="b103"><circle cx="467" cy="595" r="10.5"/><text x="467" y="595">103</text></g>
<g id="b58"><circle cx="484" cy="602" r="10.5"/><text x="484" y="602">58</text></g>
<g id="b71"><circle cx="553" cy="594" r="10.5"/><text x="553" y="594">71</text></g>
<g id="b76"><circle cx="646" cy="596" r="10.5"/><text x="646" y="596">76</text></g>
<g id="b175"><circle cx="66" cy="613" r="10.5"/><text x="66" y="613">175</text></g>
<g id="b115"><circle cx="452" cy="606" r="10.5"/><text x="452" y="606">115</text></g>
<g id="b74"><circle cx="541" cy="605" r="10.5"/><text x="541" y="605">74</text></g>
<g id="b174"><circle cx="690" cy="605" r="10.5"/><text x="690" y="605">174</text></g>
<g id="b39"><circle cx="143" cy="627" r="10.5"/><text x="143" y="627">39</text></g>
<g id="b156"><circle cx="337" cy="625" r="10.5"/><text x="337" y="625">156</text></g>
<g id="b17"><circle cx="298" cy="632" r="10.5"/><text x="298" y="632">17</text></g>
<g id="b196"><circle cx="369" cy="636" r="10.5"/><text x="369" y="636">196</text></g>
<g id="b26"><circle cx="381" cy="634" r="10.5"/><text x="381" y="634">26</text></g>
<g id="b87"><circle cx="411" cy="628" r="10.5"/><text x="411" y="628">87</text></g>
<g id="b132"><circle cx="577" cy="620" r="10.5"/><text x="577" y="620">132</text></g>
<g id="b100"><circle cx="84" cy="638" r="10.5"/><text x="84" y="638">100</text></g>
<g id="b147"><circle cx="125" cy="643" r="10.5"/><text x="125" y="643">147</text></g>
<g id="b155"><circle cx="516" cy="633" r="10.5"/><text x="516" y="633">155</text></g>
<g id="b150b"><circle cx="719" cy="635" r="10.5"/><text x="719" y="635">150</text></g>
<g id="b83"><circle cx="641" cy="631" r="10.5"/><text x="641" y="631">83</text></g>
<g id="b98"><circle cx="369" cy="648" r="10.5"/><text x="369" y="648">98</text></g>
<g id="b101"><circle cx="410" cy="643" r="10.5"/><text x="410" y="643">101</text></g>
<g id="b37"><circle cx="452" cy="646" r="10.5"/><text x="452" y="646">37</text></g>
<g id="b97"><circle cx="611" cy="645" r="10.5"/><text x="611" y="645">97</text></g>
<g id="b176"><circle cx="270" cy="647" r="10.5"/><text x="270" y="647">176</text></g>
<g id="b115b"><circle cx="306" cy="660" r="10.5"/><text x="306" y="660">115</text></g>
<g id="b59"><circle cx="325" cy="656" r="10.5"/><text x="325" y="656">59</text></g>
<g id="b123"><circle cx="527" cy="648" r="10.5"/><text x="527" y="648">123</text></g>
<g id="b93"><circle cx="67" cy="654" r="10.5"/><text x="67" y="654">93</text></g>
<g id="b64"><circle cx="86" cy="652" r="10.5"/><text x="86" y="652">64</text></g>
<g id="b109"><circle cx="38" cy="667" r="10.5"/><text x="38" y="667">109</text></g>
<g id="b166"><circle cx="731" cy="656" r="10.5"/><text x="731" y="656">166</text></g>
<g id="b157"><circle cx="130" cy="686" r="10.5"/><text x="130" y="686">157</text></g>
<g id="b178"><circle cx="358" cy="682" r="10.5" style="fill:#66ff00"/><text x="358" y="682">178</text></g>
</g>
</g>
</svg>
